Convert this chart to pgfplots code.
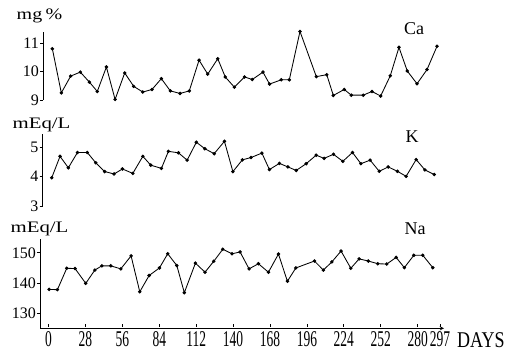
\documentclass[border=0pt]{standalone}
\usepackage{pgfplots}
\pgfplotsset{compat=1.18}
\usepackage{fontspec}
\setmainfont{Liberation Serif}
\usepackage{graphicx}

\pgfplotsset{
  panel/.style={
    scale only axis,
    anchor=south west,
    axis y line=left,
    axis line style={-, line width=0.9bp, black},
    tick style={line width=0.8bp, black},
    major tick length=3bp,
    tick align=outside,
    /pgf/number format/assume math mode=true,
    yticklabel style={font=\fontsize{16bp}{18bp}\selectfont, inner sep=1bp},
    clip=false,
  },
  ser/.style={black, line width=0.85bp, mark=*, mark size=1.3bp, mark options={solid, fill=black}},
}

\begin{document}
\begin{tikzpicture}
\path[use as bounding box] (0,0) rectangle (509bp,354bp);

% Ca panel
\begin{axis}[panel, axis x line=none, at={(43bp,254bp)}, width=400.9bp, height=68.3bp,
  xmin=-4.2, xmax=300, ymin=9, ymax=11.4, ytick={9,10,11}]
\addplot[ser] coordinates {
(2.9,10.80)(9.7,9.25)(16.8,9.84)(24.1,9.98)(31.0,9.63)(37.0,9.30)(43.9,10.16)(50.5,9.02)(57.8,9.95)(64.6,9.48)(71.5,9.28)(78.5,9.37)(85.6,9.75)(92.4,9.32)(99.8,9.23)(106.8,9.32)(114.2,10.40)(120.8,9.91)(128.4,10.45)(134.1,9.81)(141.0,9.45)(148.7,9.81)(154.6,9.72)(162.7,9.98)(167.7,9.56)(176.6,9.71)(182.7,9.71)(190.8,11.41)(203.2,9.82)(211.1,9.89)(216.1,9.16)(224.4,9.37)(229.7,9.17)(238.8,9.17)(245.4,9.30)(252.0,9.14)(259.3,9.85)(265.9,10.85)(272.2,10.02)(279.6,9.57)(287.2,10.07)(294.8,10.89)
};
\end{axis}

% K panel
\begin{axis}[panel, axis x line=none, at={(42.5bp,148bp)}, width=401.6bp, height=72bp,
  xmin=-4.6, xmax=300, ymin=3, ymax=5.45, ytick={3,4,5}]
\addplot[ser] coordinates {
(2.4,3.96)(8.7,4.69)(15.0,4.30)(21.9,4.82)(29.4,4.82)(35.8,4.47)(42.6,4.17)(49.7,4.09)(56.0,4.26)(63.9,4.11)(71.5,4.69)(77.5,4.39)(85.6,4.28)(90.9,4.86)(98.5,4.81)(105.1,4.56)(112.1,5.17)(118.5,4.95)(125.6,4.78)(133.4,5.20)(139.8,4.17)(147.0,4.57)(153.6,4.65)(161.8,4.80)(167.5,4.24)(175.1,4.45)(181.5,4.33)(187.8,4.21)(195.4,4.44)(203.0,4.73)(209.0,4.62)(216.1,4.76)(223.2,4.52)(230.5,4.82)(236.9,4.44)(243.9,4.56)(250.8,4.18)(257.6,4.33)(264.6,4.18)(271.2,4.01)(278.8,4.58)(285.4,4.23)(292.5,4.07)
};
\end{axis}

% Na panel
\begin{axis}[panel, at={(40bp,25.7bp)}, width=404bp, height=89bp,
  axis x line=bottom,
  xmin=-6.5, xmax=300, ymin=125, ymax=154.5, ytick={130,140,150},
  xtick={0,28,56,84,112,140,168,196,224,252,280,297},
  xtick style={yshift=3bp},
  xticklabel={\scalebox{0.9}[1.5]{\pgfmathprintnumber{\tick}}},
  xticklabel style={font=\fontsize{15bp}{17bp}\selectfont, inner sep=0pt, yshift=-1.7bp}]
\addplot[ser] coordinates {
(0.4,137.9)(6.7,137.8)(13.8,144.9)(20.1,144.8)(28.2,139.9)(35.1,144.3)(40.4,145.7)(47.2,145.7)(54.8,144.7)(62.6,149.0)(69.2,137.1)(76.3,142.5)(84.1,145.0)(90.4,149.7)(97.3,145.8)(103.0,136.8)(111.4,146.6)(118.7,143.6)(125.3,147.2)(132.2,151.2)(139.2,149.7)(145.3,150.3)(152.1,144.7)(159.2,146.4)(166.8,143.6)(174.4,149.6)(181.2,140.6)(187.6,145.0)(201.7,147.3)(208.5,144.3)(214.9,147.0)(221.9,150.6)(229.3,144.9)(235.6,148.0)(242.6,147.3)(249.8,146.4)(256.6,146.3)(263.7,148.5)(269.9,145.1)(277.1,149.2)(283.9,149.2)(291.5,145.1)
};
\end{axis}

% labels
\node at (39.5bp,338bp) {\fontsize{16bp}{18bp}\selectfont\scalebox{1.25}[1]{mg\,\%}};
\node at (41.5bp,229bp) {\fontsize{16bp}{18bp}\selectfont\scalebox{1.3}[1]{mEq/L}};
\node at (39.5bp,125bp) {\fontsize{16bp}{18bp}\selectfont\scalebox{1.3}[1]{mEq/L}};
\node at (414bp,325bp) {\fontsize{18bp}{20bp}\selectfont Ca};
\node at (412bp,217.5bp) {\fontsize{18bp}{20bp}\selectfont K};
\node at (415bp,125bp) {\fontsize{18bp}{20bp}\selectfont Na};
\node[anchor=west, inner sep=0pt] at (457bp,13.5bp) {\fontsize{15bp}{17bp}\selectfont\scalebox{1.2}[1.5]{DAYS}};
\end{tikzpicture}
\end{document}
